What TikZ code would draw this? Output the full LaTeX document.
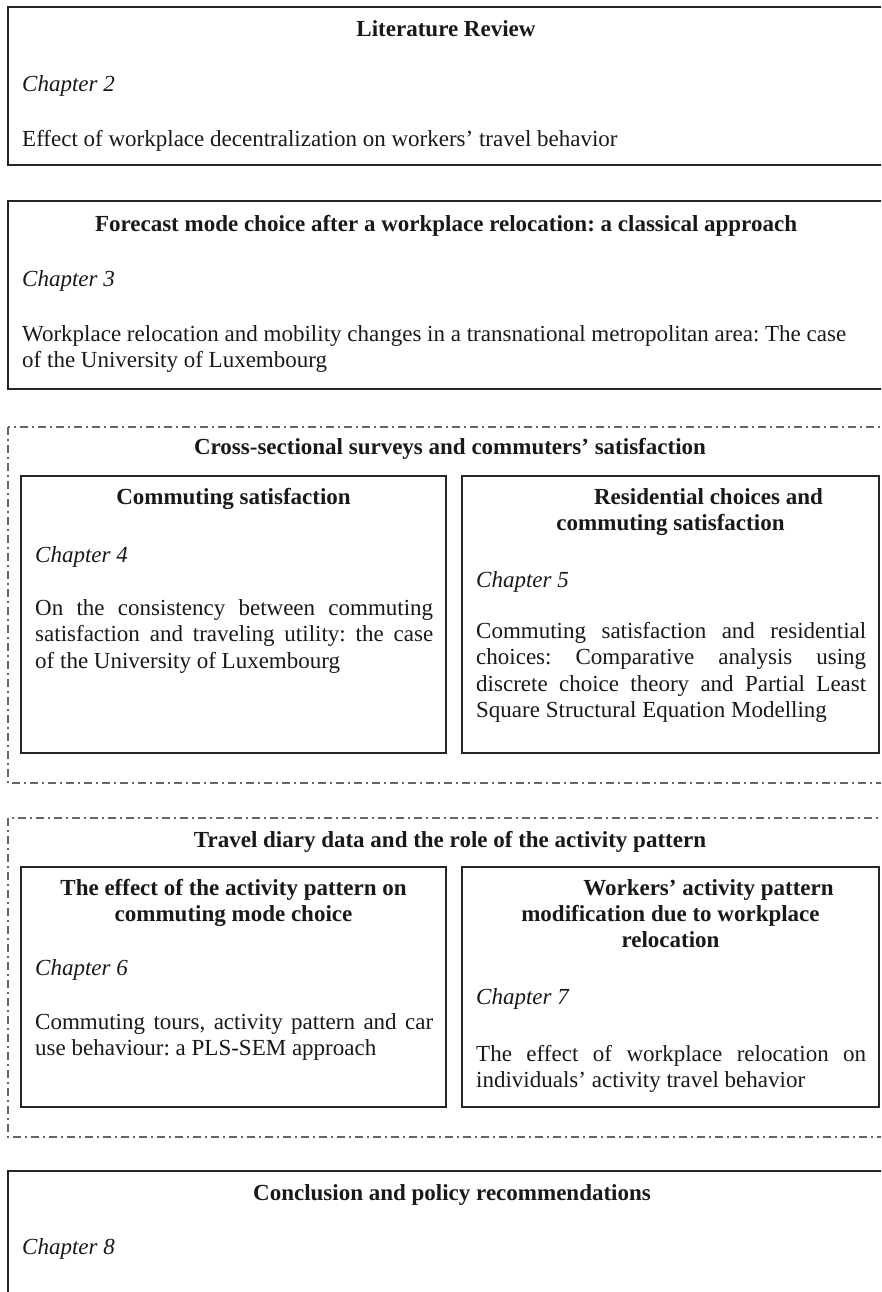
\documentclass[tikz,border=0pt]{standalone}
\usepackage{fontspec}
\setmainfont{Liberation Serif}
\frenchspacing
\begin{document}
\begin{tikzpicture}[x=1pt,y=-1pt,
  frame/.style={draw=black!85, line width=1.6pt},
  grp/.style={draw=black!60, line width=1.1pt, dash pattern=on 8pt off 4pt on 2pt off 4pt},
  every node/.style={inner sep=0pt, font=\fontsize{23}{26.5}\selectfont, text=black!90},
  ttl/.style={font=\fontsize{23}{26}\selectfont\bfseries, anchor=base, align=center},
  chap/.style={font=\fontsize{23}{26.5}\selectfont\itshape, anchor=base west},
  txt/.style={anchor=base west, align=left},
  jtxt/.style={anchor=base west, align=justify, text width=#1},
]
\useasboundingbox (0,0) rectangle (881,1292);
\clip (0,0) rectangle (881,1292);
\fill[white] (0,0) rectangle (881,1292);

% frames
\draw[frame] (8,7) rectangle (886,165);
\draw[frame] (8,201) rectangle (886,389);
\draw[grp] (8,427) rectangle (886,783);
\draw[frame] (21,476) rectangle (446,753);
\draw[frame] (462,476) rectangle (879,753);
\draw[grp] (8,818) rectangle (886,1137);
\draw[frame] (21,867) rectangle (446,1107);
\draw[frame] (462,867) rectangle (879,1107);
\draw[frame] (8,1171) rectangle (886,1310);

% Box 1
\node[ttl] (t1) at (446,37) {Literature Review};
\node[chap] (c1) at (22,92) {Chapter 2};
\node[txt] (b1) at (22,147) {Effect of workplace decentralization on workers' travel behavior};

% Box 2
\node[ttl] (t2) at (446,231) {Forecast mode choice after a workplace relocation: a classical approach};
\node[chap] (c2) at (22,286) {Chapter 3};
\node[txt] (b2) at (22,367.5) {Workplace relocation and mobility changes in a transnational metropolitan area: The case\\of the University of Luxembourg};

% Group 1
\node[ttl] (g1) at (450,454) {Cross-sectional surveys and commuters' satisfaction};
\node[ttl] (t4) at (233.5,504) {Commuting satisfaction};
\node[chap] (c4) at (35,562) {Chapter 4};
\node[jtxt=398pt] (b4) at (35,615) {On the consistency between commuting\linebreak satisfaction and traveling utility: the case\linebreak of the University of Luxembourg};

\node[ttl] (t5) at (670.5,530) {\hspace*{76pt}Residential choices and\\commuting satisfaction};
\node[chap] (c5) at (476,587) {Chapter 5};
\node[jtxt=390pt] (b5) at (476,638) {Commuting satisfaction and residential\linebreak choices: Comparative analysis using\linebreak discrete choice theory and Partial Least\linebreak Square Structural Equation Modelling};

% Group 2
\node[ttl] (g2) at (450,847) {Travel diary data and the role of the activity pattern};
\node[ttl] (t6) at (233.5,921) {The effect of the activity pattern on\\commuting mode choice};
\node[chap] (c6) at (35,975) {Chapter 6};
\node[jtxt=398pt] (b6) at (35,1029) {Commuting tours, activity pattern and car\linebreak use behaviour: a PLS-SEM approach};

\node[ttl] (t7) at (670.5,947) {\hspace*{76pt}Workers' activity pattern\\modification due to workplace\\relocation};
\node[chap] (c7) at (476,1004) {Chapter 7};
\node[jtxt=390pt] (b7) at (476,1061) {The effect of workplace relocation on\linebreak individuals' activity travel behavior};

% Conclusion
\node[ttl] (t8) at (452,1200) {Conclusion and policy recommendations};
\node[chap] (c8) at (22,1254) {Chapter 8};
\end{tikzpicture}
\end{document}
